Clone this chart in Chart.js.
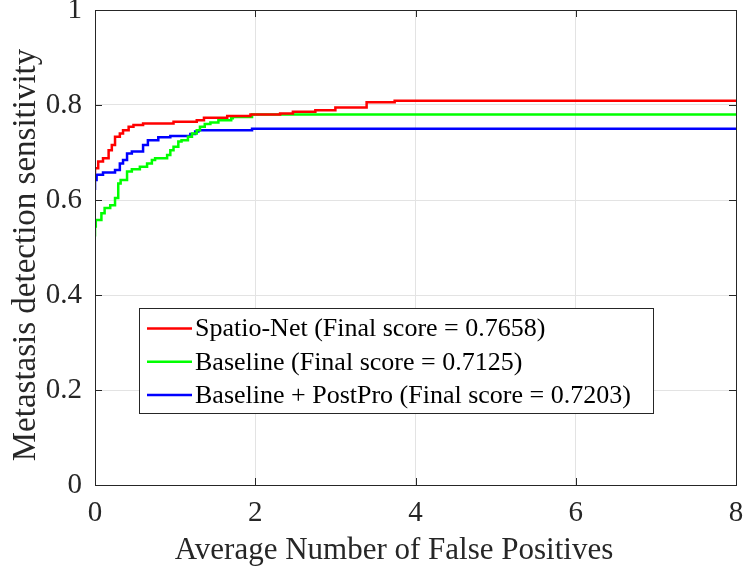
<!DOCTYPE html>
<html>
<head>
<meta charset="utf-8">
<script src="https://cdn.jsdelivr.net/npm/chart.js@4"></script>
<style>
  html, body { margin: 0; padding: 0; background: #fff; }
  #wrap { width: 744px; height: 571px; }
</style>
</head>
<body>
<div id="wrap"><canvas id="frocChart"></canvas></div>
<script>
// FROC curves (x = avg false positives, y = sensitivity)
const spatioFP   = [0, 0.04, 0.10, 0.17, 0.21, 0.25, 0.31, 0.35, 0.42, 0.48, 0.60, 0.98, 1.27, 1.36, 1.65, 1.94, 2.31, 2.47, 2.75, 3.00, 3.39, 3.74, 4.93, 8];
const spatioSens = [0.656, 0.667, 0.681, 0.688, 0.705, 0.716, 0.733, 0.740, 0.747, 0.754, 0.758, 0.761, 0.765, 0.768, 0.773, 0.777, 0.780, 0.782, 0.786, 0.789, 0.795, 0.806, 0.809, 0.809];

const baseFP   = [0, 0.01, 0.08, 0.12, 0.19, 0.25, 0.29, 0.32, 0.40, 0.46, 0.56, 0.65, 0.71, 0.75, 0.90, 0.94, 0.98, 1.04, 1.08, 1.16, 1.21, 1.27, 1.31, 1.37, 1.44, 1.54, 1.70, 1.72, 1.96, 3.41, 8];
const baseSens = [0.523, 0.544, 0.558, 0.572, 0.583, 0.589, 0.604, 0.635, 0.642, 0.660, 0.665, 0.670, 0.677, 0.684, 0.688, 0.695, 0.705, 0.712, 0.723, 0.726, 0.733, 0.740, 0.747, 0.754, 0.760, 0.763, 0.768, 0.772, 0.775, 0.780, 0.780];

const postFP   = [0, 0.02, 0.10, 0.25, 0.31, 0.35, 0.40, 0.46, 0.60, 0.66, 0.79, 0.94, 1.19, 1.25, 1.29, 1.96, 2.56, 8];
const postSens = [0.621, 0.642, 0.653, 0.658, 0.663, 0.677, 0.684, 0.698, 0.702, 0.716, 0.726, 0.732, 0.735, 0.739, 0.744, 0.747, 0.750, 0.750];

const seriesLabels = [
    'Spatio-Net (Final score = 0.7658)',
    'Baseline (Final score = 0.7125)',
    'Baseline + PostPro (Final score = 0.7203)'
];
const seriesColors = ['#ff0000', '#00ff00', '#0000ff'];

const xTitle = 'Average Number of False Positives';
const yTitle = 'Metastasis detection sensitivity';

const toPoints = (xs, ys) => xs.map((x, i) => ({ x: x, y: ys[i] }));

const axisColor = '#262626';
const serif = '"Liberation Serif", "Times New Roman", serif';

// box around the plot, MATLAB style inward ticks, axis titles
const boxPlugin = {
    id: 'box',
    afterDraw(chart) {
        const { ctx, chartArea: a, scales } = chart;
        ctx.save();
        ctx.strokeStyle = axisColor;
        ctx.lineWidth = 1;
        ctx.strokeRect(a.left + 0.5, a.top + 0.5, a.right - a.left, a.bottom - a.top);
        const len = 7;
        ctx.beginPath();
        scales.x.ticks.forEach(t => {
            const px = Math.round(scales.x.getPixelForValue(t.value)) + 0.5;
            ctx.moveTo(px, a.bottom); ctx.lineTo(px, a.bottom - len);
            ctx.moveTo(px, a.top); ctx.lineTo(px, a.top + len);
        });
        scales.y.ticks.forEach(t => {
            const py = Math.round(scales.y.getPixelForValue(t.value)) + 0.5;
            ctx.moveTo(a.left, py); ctx.lineTo(a.left + len, py);
            ctx.moveTo(a.right, py); ctx.lineTo(a.right - len, py);
        });
        ctx.stroke();

        // titles (MATLAB puts them a bit off the axis centre)
        ctx.fillStyle = axisColor;
        ctx.textAlign = 'center';
        ctx.textBaseline = 'middle';
        ctx.font = '31px ' + serif;
        ctx.fillText(xTitle, 394, 551);
        ctx.font = '33px ' + serif;
        ctx.translate(26, 255);
        ctx.rotate(-Math.PI / 2);
        ctx.fillText(yTitle, 0, 0);
        ctx.restore();
    }
};

// legend box sitting inside the axes
const legendPlugin = {
    id: 'boxLegend',
    afterDatasetsDraw(chart) {
        const ctx = chart.ctx;
        const left = 139, top = 308, w = 514, h = 105, row = 33.3;
        ctx.save();
        ctx.fillStyle = '#fff';
        ctx.fillRect(left, top, w, h);
        ctx.strokeStyle = axisColor;
        ctx.lineWidth = 1;
        ctx.strokeRect(left + 0.5, top + 0.5, w, h);
        ctx.font = '26px ' + serif;
        ctx.textBaseline = 'middle';
        chart.data.datasets.forEach((ds, i) => {
            const y = top + 20.5 + i * row;
            ctx.strokeStyle = ds.borderColor;
            ctx.lineWidth = 2.5;
            ctx.beginPath();
            ctx.moveTo(147, y); ctx.lineTo(192, y);
            ctx.stroke();
            ctx.fillStyle = '#000';
            ctx.fillText(ds.label, 195, y + 1);
        });
        ctx.restore();
    }
};

const ctx = document.getElementById('frocChart').getContext('2d');
const chart = new Chart(ctx, {
    type: 'line',
    data: {
        datasets: [
            { label: seriesLabels[0], data: toPoints(spatioFP, spatioSens) },
            { label: seriesLabels[1], data: toPoints(baseFP, baseSens) },
            { label: seriesLabels[2], data: toPoints(postFP, postSens) }
        ].map((d, i) => Object.assign(d, {
            borderColor: seriesColors[i],
            backgroundColor: seriesColors[i],
            borderWidth: 2.5,
            pointRadius: 0,
            stepped: 'after',
            fill: false
        }))
    },
    options: {
        responsive: true,
        maintainAspectRatio: false,
        animation: false,
        layout: { padding: { top: 10, right: 8, left: 0, bottom: 0 } },
        scales: {
            x: {
                type: 'linear',
                min: 0, max: 8,
                ticks: { stepSize: 2, color: axisColor, font: { family: serif, size: 29 }, padding: 11, maxRotation: 0 },
                grid: { color: '#e3e3e3', drawTicks: false },
                border: { color: axisColor },
                afterFit(scale) {
                    scale.height = 86;
                    scale.paddingLeft = 0; scale.paddingRight = 0;
                }
            },
            y: {
                min: 0, max: 1,
                ticks: {
                    stepSize: 0.2, color: axisColor, font: { family: serif, size: 29 }, padding: 13,
                    callback: v => String(+v.toFixed(1))
                },
                grid: { color: '#e3e3e3', drawTicks: false },
                border: { color: axisColor },
                afterFit(scale) {
                    scale.width = 95;
                    scale.paddingTop = 0; scale.paddingBottom = 0;
                }
            }
        },
        plugins: {
            legend: { display: false },
            tooltip: { enabled: false }
        }
    },
    plugins: [boxPlugin, legendPlugin]
});
</script>
</body>
</html>
